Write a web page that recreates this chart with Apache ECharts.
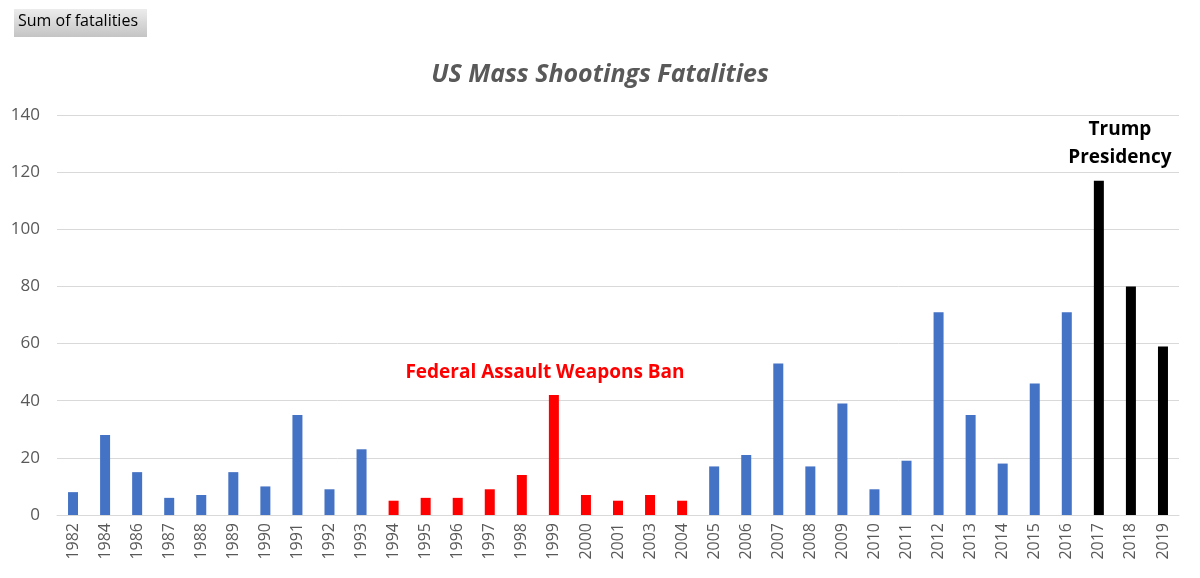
<!DOCTYPE html>
<html><head><meta charset="utf-8">
<script src="https://cdn.jsdelivr.net/npm/echarts@6/dist/echarts.min.js"></script>
<style>html,body{margin:0;padding:0;background:#fff}#c{width:1200px;height:578px}</style>
</head><body><div id="c"></div>
<script>
const years = ['1982','1984','1986','1987','1988','1989','1990','1991','1992','1993','1994','1995','1996','1997','1998','1999','2000','2001','2003','2004','2005','2006','2007','2008','2009','2010','2011','2012','2013','2014','2015','2016','2017','2018','2019'];
const fatalities = [8,28,15,6,7,15,10,35,9,23,5,6,6,9,14,42,7,5,7,5,17,21,53,17,39,9,19,71,35,18,46,71,117,80,59];
const banYears = ['1994','1995','1996','1997','1998','1999','2000','2001','2003','2004'];
const trumpYears = ['2017','2018','2019'];
const yTicks = [0,20,40,60,80,100,120,140];

const FONT = '"Open Sans", "Liberation Sans", sans-serif';
const colorFor = y => banYears.includes(y) ? '#ff0000' : (trumpYears.includes(y) ? '#000000' : '#4472c4');

const chart = echarts.init(document.getElementById('c'), null, {renderer:'canvas'});
const option = {
  animation:false,
  backgroundColor:'#fff',
  title:{ text:'US Mass Shootings Fatalities', left:'center', top:57,
    textStyle:{ fontFamily:FONT, fontSize:25, fontStyle:'italic', fontWeight:'bold', color:'#595959'} },
  grid:{ left:57, right:21, top:115, bottom:63 },
  xAxis:{ type:'category', data:years,
    axisLine:{ lineStyle:{ color:'#d9d9d9' } }, axisTick:{show:false},
    axisLabel:{ rotate:90, interval:0, margin:8, fontFamily:FONT, fontSize:16, color:'#595959' } },
  yAxis:{ type:'value', min:yTicks[0], max:yTicks[yTicks.length-1], interval:20,
    axisLine:{show:false}, axisTick:{show:false},
    splitLine:{ lineStyle:{ color:'#d9d9d9', width:1 } },
    axisLabel:{ margin:17, fontFamily:FONT, fontSize:17, color:'#595959' } },
  series:[{ type:'bar', barWidth:10,
    data: years.map((y,i)=>({ value:fatalities[i], itemStyle:{ color:colorFor(y) } })) }],
  graphic:[
    { type:'rect', left:14, top:9, shape:{ width:133, height:28 },
      style:{ fill:new echarts.graphic.LinearGradient(0,0,0,1,[{offset:0,color:'#ececec'},{offset:1,color:'#c4c4c4'}]) } },
    { type:'text', left:18, top:13, style:{ text:'Sum of fatalities', font:'16px '+FONT, fill:'#000' } }
  ]
};
chart.setOption(option);

const banY = chart.convertToPixel({yAxisIndex:0}, 50);
const trumpX = chart.convertToPixel({xAxisIndex:0}, '2018');
const trumpY = chart.convertToPixel({yAxisIndex:0}, 130);
chart.setOption({ graphic:[
  option.graphic[0], option.graphic[1],
  { type:'text', x:545, y:banY, style:{ text:'Federal Assault Weapons Ban', font:'bold 19px '+FONT, fill:'#ff0000', align:'center', verticalAlign:'middle' } },
  { type:'text', x:trumpX - 11, y:trumpY, style:{ text:'Trump\nPresidency', font:'bold 19px '+FONT, fill:'#000', align:'center', verticalAlign:'middle', lineHeight:28 } }
]});
</script></body></html>
